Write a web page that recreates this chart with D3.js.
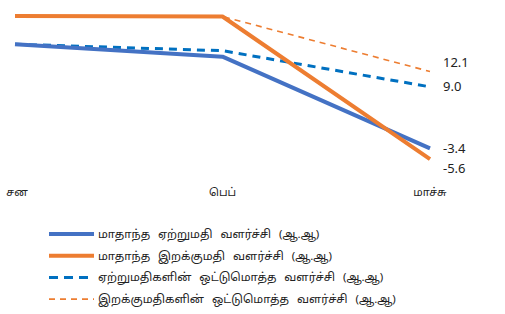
<!DOCTYPE html>
<html><head><meta charset="utf-8">
<script src="https://cdn.jsdelivr.net/npm/d3@7"></script>
<style>body{margin:0;background:#fff}svg{display:block}text{font-family:"Noto Sans","Noto Sans Tamil",sans-serif;fill:#222}</style>
</head><body><svg id="c" width="505" height="314"></svg>
<script>
const months = ["சன", "பெப்", "மாச்சு"];
const seriesNames = [
  "மாதாந்த ஏற்றுமதி வளர்ச்சி (ஆ.ஆ)",
  "மாதாந்த இறக்குமதி வளர்ச்சி (ஆ.ஆ)",
  "ஏற்றுமதிகளின் ஒட்டுமொத்த வளர்ச்சி (ஆ.ஆ)",
  "இறக்குமதிகளின் ஒட்டுமொத்த வளர்ச்சி (ஆ.ஆ)"
];
const exportMonthly = [17.6, 15.1, -3.4];
const importMonthly = [23.3, 23.2, -5.6];
const exportCumulative = [17.6, 16.3, 9.0];
const importCumulative = [23.3, 23.2, 12.1];
const lastLabels = ["-3.4", "-5.6", "9.0", "12.1"];

const series = [
  {name: seriesNames[0], values: exportMonthly, color: "#4472C4", width: 4, dash: null},
  {name: seriesNames[1], values: importMonthly, color: "#ED7D31", width: 4, dash: null},
  {name: seriesNames[2], values: exportCumulative, color: "#0070C0", width: 3, dash: "8,6"},
  {name: seriesNames[3], values: importCumulative, color: "#ED7D31", width: 1.6, dash: "6,5"}
];

const svg = d3.select("#c");
const x = d3.scalePoint().domain(months).range([15, 430]);
const y = d3.scaleLinear().domain([-5.6, 23.3]).range([159.2, 16]);

const line = d3.line().x((d, i) => x(months[i])).y(d => y(d));

[3, 2, 0, 1].forEach(k => {
  const s = series[k];
  svg.append("path").attr("d", line(s.values)).attr("fill", "none")
    .attr("stroke", s.color).attr("stroke-width", s.width)
    .attr("stroke-dasharray", s.dash).attr("stroke-linejoin", "round");
});

const labOffsets = [0, 9, 0, -9];
series.forEach((s, k) => {
  svg.append("text").attr("x", 443).attr("y", y(s.values[2]) + labOffsets[k])
    .attr("dy", "0.35em").attr("font-size", 13).text(lastLabels[k]);
});

svg.append("g").selectAll("text").data(months).join("text")
  .attr("x", d => x(d) + (d === months[0] ? 2 : 0)).attr("y", 196)
  .attr("text-anchor", "middle").attr("font-size", 11).text(d => d);

const lg = svg.append("g");
series.forEach((s, k) => {
  const yy = 234 + k * 21.7;
  lg.append("line").attr("x1", 49).attr("x2", 94).attr("y1", yy).attr("y2", yy)
    .attr("stroke", s.color).attr("stroke-width", k < 2 ? 4 : (k === 2 ? 3 : 1.6))
    .attr("stroke-dasharray", k === 2 ? "9,6" : (k === 3 ? "6,5" : null));
  lg.append("text").attr("x", 98).attr("y", yy).attr("dy", "0.35em")
    .attr("font-size", 11.5).attr("word-spacing", 5).text(s.name);
});
</script></body></html>
